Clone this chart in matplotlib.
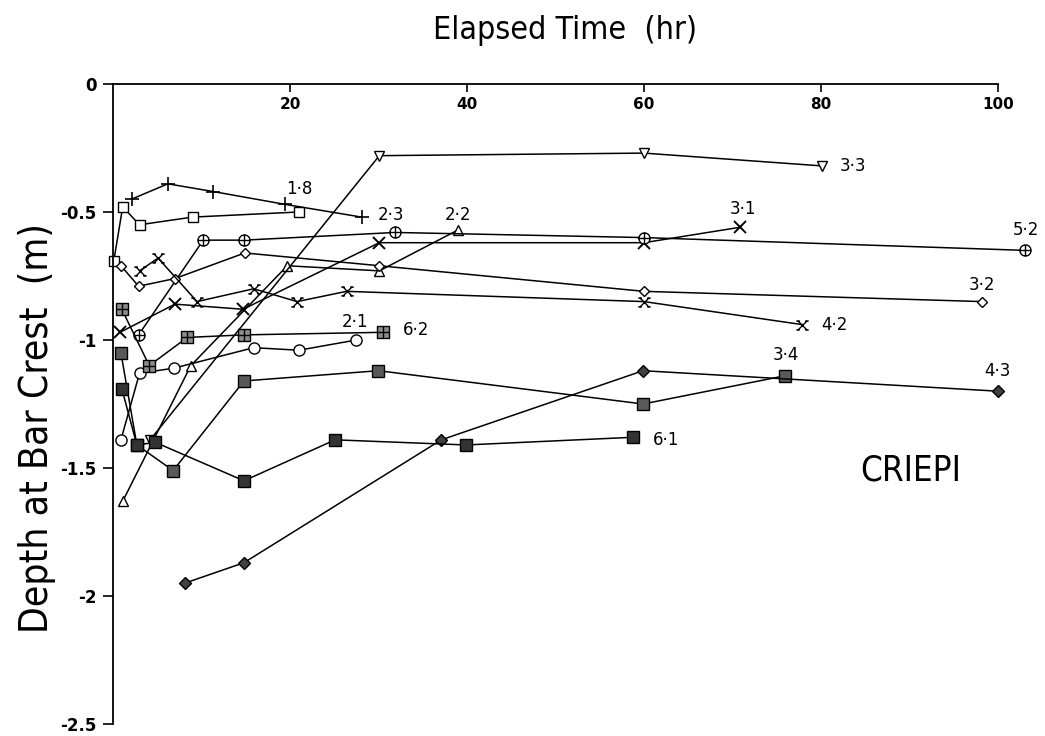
import matplotlib

matplotlib.use("Agg")
import matplotlib.pyplot as plt
from matplotlib.path import Path

plt.rcParams["axes.unicode_minus"] = False

# elapsed time (hr) and depth at bar crest (m), one pair of lists per run
t_18 = [0.1, 1.1, 3.0, 9.0, 21.0]
d_18 = [-0.69, -0.48, -0.55, -0.52, -0.50]

t_23 = [2.1, 6.2, 11.3, 19.4, 28.1]
d_23 = [-0.45, -0.39, -0.42, -0.47, -0.52]

t_22 = [1.1, 8.8, 19.7, 30.1, 39.0]
d_22 = [-1.63, -1.10, -0.71, -0.73, -0.57]

t_33 = [4.2, 30.1, 60.0, 80.1]
d_33 = [-1.39, -0.28, -0.27, -0.32]

t_31 = [0.8, 7.0, 14.7, 30.1, 60.0, 70.8]
d_31 = [-0.97, -0.86, -0.88, -0.62, -0.62, -0.56]

t_52 = [2.9, 10.2, 14.8, 31.9, 60.0, 103.1]
d_52 = [-0.98, -0.61, -0.61, -0.58, -0.60, -0.65]

t_32 = [0.9, 2.9, 7.0, 14.9, 30.1, 60.0, 98.2]
d_32 = [-0.71, -0.79, -0.76, -0.66, -0.71, -0.81, -0.85]

t_42 = [3.0, 5.1, 9.5, 15.9, 20.8, 26.4, 60.0, 77.9]
d_42 = [-0.73, -0.68, -0.85, -0.80, -0.85, -0.81, -0.85, -0.94]

t_21 = [0.9, 3.0, 6.9, 15.9, 21.0, 27.5]
d_21 = [-1.39, -1.13, -1.11, -1.03, -1.04, -1.00]

t_62 = [1.0, 4.1, 8.4, 14.8, 30.5]
d_62 = [-0.88, -1.10, -0.99, -0.98, -0.97]

t_34 = [0.9, 2.7, 6.8, 14.8, 30.0, 59.9, 75.9]
d_34 = [-1.05, -1.41, -1.51, -1.16, -1.12, -1.25, -1.14]

t_43 = [8.1, 14.8, 37.1, 59.9, 100.0]
d_43 = [-1.95, -1.87, -1.39, -1.12, -1.20]

t_61 = [1.0, 2.7, 4.8, 14.8, 25.1, 39.9, 58.8]
d_61 = [-1.19, -1.41, -1.40, -1.55, -1.39, -1.41, -1.38]

run_names = ["1·8", "2·3", "2·2", "3·3", "3·1", "5·2", "3·2",
             "4·2", "2·1", "6·2", "3·4", "4·3", "6·1"]
name_t = [21.1, 31.4, 39.0, 83.6, 71.2, 103.2, 98.2,
          81.5, 27.3, 34.2, 76.0, 99.9, 62.5]
name_d = [-0.41, -0.51, -0.51, -0.32, -0.49, -0.57, -0.785,
          -0.94, -0.93, -0.96, -1.06, -1.12, -1.39]

x_ticks = [20, 40, 60, 80, 100]
y_ticks = [0, -0.5, -1, -1.5, -2, -2.5]
y_tick_labels = ["0", "-0.5", "-1", "-1.5", "-2", "-2.5"]

M, L, C = Path.MOVETO, Path.LINETO, Path.CLOSEPOLY


def seg(*pts):
    return Path(pts, [M] + [L] * (len(pts) - 1))


box = Path([(-1, -1), (1, -1), (1, 1), (-1, 1), (-1, -1)], [M, L, L, L, C])
cross = Path.make_compound_path(seg((-1, 0), (1, 0)), seg((0, -1), (0, 1)))
circle_plus = Path.make_compound_path(Path.unit_circle(), cross)
box_plus = Path.make_compound_path(box, cross)
barred_x = Path.make_compound_path(
    seg((-1, -1), (1, 1)), seg((-1, 1), (1, -1)),
    seg((-1.4, 1), (-0.6, 1)), seg((0.6, 1), (1.4, 1)),
    seg((-1.4, -1), (-0.6, -1)), seg((0.6, -1), (1.4, -1)),
)

fig = plt.figure(figsize=(10.45, 7.36), dpi=100)
ax = fig.add_axes([0.1081, 0.0163, 0.8469, 0.8696])

line_kw = dict(color="black", lw=1.1, mec="black", mew=1.0, clip_on=False)
ax.plot(t_18, d_18, marker="s", ms=7, mfc="white", **line_kw)
ax.plot(t_23, d_23, marker="+", ms=10, mew=1.2, color="black", lw=1.1, clip_on=False)
ax.plot(t_22, d_22, marker="^", ms=7, mfc="white", **line_kw)
ax.plot(t_33, d_33, marker="v", ms=7, mfc="white", **line_kw)
ax.plot(t_31, d_31, marker="x", ms=8, mew=1.4, color="black", lw=1.1, clip_on=False)
ax.plot(t_52, d_52, marker=circle_plus, ms=8, mfc="white", **line_kw)
ax.plot(t_32, d_32, marker="D", ms=5, mfc="white", **line_kw)
ax.plot(t_42, d_42, marker=barred_x, ms=9, mfc="none", **line_kw)
ax.plot(t_21, d_21, marker="o", ms=8, mfc="white", **line_kw)
ax.plot(t_62, d_62, marker=box_plus, ms=8, mfc="0.55", **line_kw)
ax.plot(t_34, d_34, marker="s", ms=8, mfc="0.35", **line_kw)
ax.plot(t_43, d_43, marker="D", ms=6, mfc="0.25", **line_kw)
ax.plot(t_61, d_61, marker="s", ms=8, mfc="0.2", **line_kw)

for name, tx, dy in zip(run_names, name_t, name_d):
    ax.text(tx, dy, name, fontsize=12, ha="center", va="center",
            family="DejaVu Sans", clip_on=False)

narrow = dict(family="DejaVu Sans", fontstretch="condensed")
ax.text(90.1, -1.51, "CRIEPI", fontsize=25, ha="center", va="center", **narrow)

ax.set_xlim(0, 100)
ax.set_ylim(-2.5, 0)
ax.xaxis.set_ticks_position("top")
ax.set_xticks(x_ticks)
ax.set_yticks(y_ticks)
ax.set_yticklabels(y_tick_labels)
ax.tick_params(axis="x", direction="in", length=6, width=1.2, pad=-20,
               labelsize=11, top=True, bottom=False, labeltop=True, labelbottom=False)
ax.tick_params(axis="y", direction="out", length=7, width=1.2, pad=5, labelsize=12)
for lab in ax.get_xticklabels() + ax.get_yticklabels():
    lab.set_fontweight("bold")

ax.spines["bottom"].set_visible(False)
ax.spines["right"].set_visible(False)
ax.spines["top"].set_linewidth(1.3)
ax.spines["left"].set_linewidth(1.3)

fig.text(0.541, 0.959, "Elapsed Time  (hr)", fontsize=23, ha="center", va="center",
         **narrow)
fig.text(0.035, 0.418, "Depth at Bar Crest  (m)", fontsize=28, ha="center", va="center",
         rotation=90, **narrow)

fig.savefig("out.png", dpi=100, facecolor="white")
